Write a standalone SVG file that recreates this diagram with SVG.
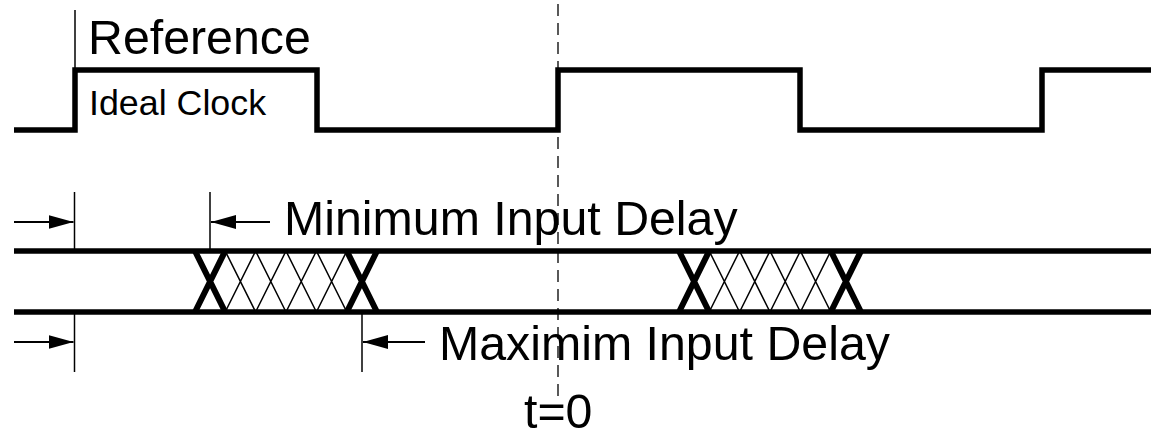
<svg xmlns="http://www.w3.org/2000/svg" width="1151" height="437" viewBox="0 0 1151 437">
<style>
.sig{fill:none;stroke:#000;stroke-width:5.5;stroke-linejoin:miter;stroke-linecap:butt}
.thin{fill:none;stroke:#000;stroke-width:1.5}
.hatch{fill:none;stroke:#000;stroke-width:1.5}
.thickx{fill:none;stroke:#000;stroke-width:6}
.arr{fill:none;stroke:#000;stroke-width:2.2;marker-end:url(#ah)}
.dash{fill:none;stroke:#000;stroke-width:1.3;stroke-dasharray:12 7}
.big{font-family:"Liberation Sans",Arial,sans-serif;font-size:48.3px;fill:#000}
.small{font-family:"Liberation Sans",Arial,sans-serif;font-size:35.8px;fill:#000}
</style>
<defs>
<marker id="ah" markerUnits="userSpaceOnUse" markerWidth="26" markerHeight="14" refX="25" refY="7" orient="auto" viewBox="0 0 26 14">
<path d="M0,0 L25,7 L0,14 Z" fill="#000"/>
</marker>
<g id="hatchset">
<path class="hatch" d="M225.2,251 L255.6,312 M255.6,251 L225.2,312 M255.6,251 L286,312 M286,251 L255.6,312 M286,251 L316.4,312 M316.4,251 L286,312 M316.4,251 L346.8,312 M346.8,251 L316.4,312"/>
<path class="thickx" d="M195,251 L225.2,312 M225.2,251 L195,312 M346.8,251 L377,312 M377,251 L346.8,312"/>
</g>
</defs>
<rect width="1151" height="437" fill="#fff"/>
<g id="clock">
<path class="sig" d="M14,130 H75 V70 H317 V130 H558 V70 H800 V130 H1042 V70 H1151"/>
<line class="thin" x1="75" y1="10" x2="75" y2="70"/>
<text class="big" x="88" y="54">Reference</text>
<text class="small" x="89" y="115">Ideal Clock</text>
</g>
<g id="data">
<line class="sig" x1="14" y1="251" x2="1151" y2="251"/>
<line class="sig" x1="14" y1="312" x2="1151" y2="312"/>
<use href="#hatchset"/>
<use href="#hatchset" transform="translate(484,0)"/>
</g>
<g id="connectors">
<line class="thin" x1="74.5" y1="192" x2="74.5" y2="251"/>
<line class="thin" x1="210" y1="192" x2="210" y2="251"/>
<line class="thin" x1="74.5" y1="312" x2="74.5" y2="372"/>
<line class="thin" x1="362" y1="312" x2="362" y2="372"/>
<line class="arr" x1="14" y1="222" x2="73.5" y2="222"/>
<line class="arr" x1="270" y1="222" x2="211" y2="222"/>
<line class="arr" x1="14" y1="342" x2="73.5" y2="342"/>
<line class="arr" x1="425" y1="342" x2="363" y2="342"/>
<line class="dash" x1="558" y1="4" x2="558" y2="402"/>
</g>
<g id="labels">
<text class="big" x="284" y="235">Minimum Input Delay</text>
<text class="big" x="439" y="360">Maximim Input Delay</text>
<text class="big" x="524" y="428">t=0</text>
</g>
</svg>
